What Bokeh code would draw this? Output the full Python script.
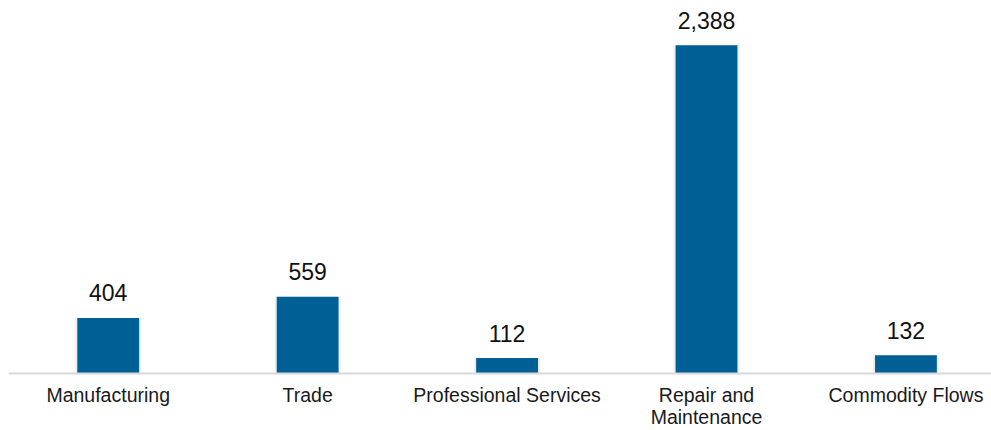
from bokeh.plotting import figure
from bokeh.models import ColumnDataSource, Range1d, FixedTicker
from bokeh.core.properties import value
from bokeh.embed import file_html
from bokeh.resources import INLINE

categories = ["Manufacturing", "Trade", "Professional Services", "Repair and\nMaintenance", "Commodity Flows"]
values = [404, 559, 112, 2388, 132]
value_labels = ["404", "559", "112", "2,388", "132"]

xs = [i + 0.5 for i in range(len(categories))]
src = ColumnDataSource(dict(x=xs, val=values, lab=value_labels))

FONT = "Liberation Sans"

p = figure(width=991, height=430, x_range=Range1d(0, 4.929), y_range=Range1d(0, 2713),
           output_backend="svg", toolbar_location=None, y_axis_location=None,
           min_border_left=8, min_border_right=0, min_border_top=0, min_border_bottom=0)
p.outline_line_color = None
p.xgrid.visible = False
p.ygrid.visible = False

p.vbar(x="x", top="val", bottom=0, width=0.33, source=src, fill_color="#000000", fill_alpha=0.07, line_color=None)
p.vbar(x="x", top="val", bottom=0, width=0.31, source=src, fill_color="#005f95", line_color=None)
p.text(x="x", y="val", text="lab", source=src, y_offset=-25, text_align="center", text_baseline="alphabetic",
       text_font=value(FONT), text_font_size="23px", text_color="#111111")

ax = p.xaxis[0]
ax.ticker = FixedTicker(ticks=xs)
ax.major_label_overrides = {x: c for x, c in zip(xs, categories)}
ax.axis_line_color = "#d9d9d9"
ax.axis_line_width = 2
ax.major_tick_line_color = None
ax.minor_tick_line_color = None
ax.major_tick_out = 0
ax.major_tick_in = 0
ax.major_label_standoff = 10
ax.major_label_text_font = FONT
ax.major_label_text_font_size = "19.5px"
ax.major_label_text_color = "#1a1a1a"
ax.major_label_text_line_height = 1.0

open("out.html", "w").write(file_html(p, INLINE))
